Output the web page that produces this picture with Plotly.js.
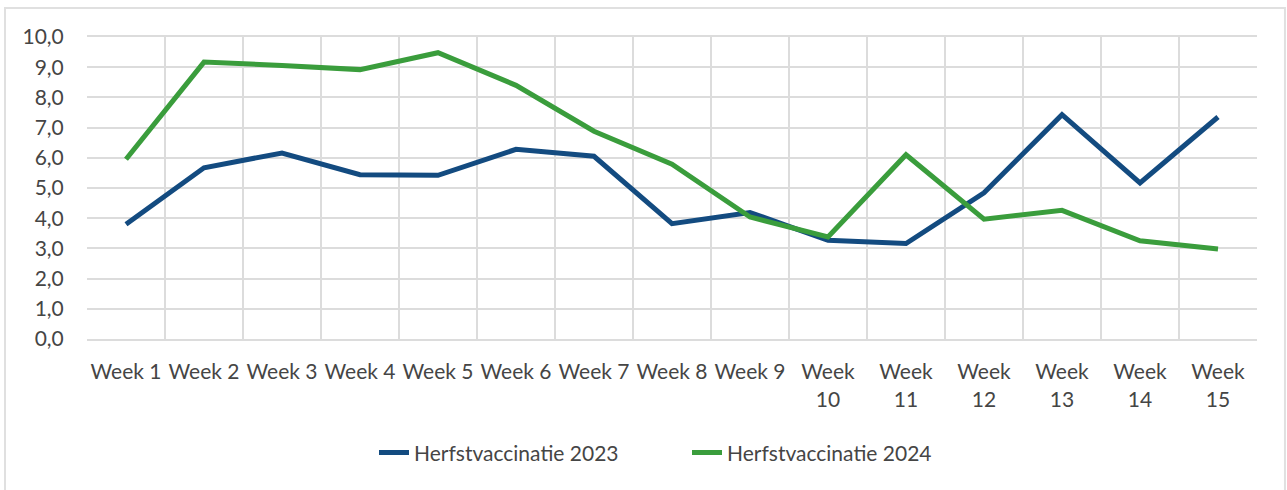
<!DOCTYPE html>
<html>
<head>
<meta charset="utf-8">
<script src="https://cdn.plot.ly/plotly-3.0.1.min.js"></script>
<style>
  html, body { margin: 0; padding: 0; background: #ffffff; }
  #chart { width: 1287px; height: 490px; }
</style>
</head>
<body>
<div id="chart"></div>
<script>
const weeks = ["Week 1","Week 2","Week 3","Week 4","Week 5","Week 6","Week 7","Week 8","Week 9","Week 10","Week 11","Week 12","Week 13","Week 14","Week 15"];
const tickLabels = ["Week 1","Week 2","Week 3","Week 4","Week 5","Week 6","Week 7","Week 8","Week 9","Week<br>10","Week<br>11","Week<br>12","Week<br>13","Week<br>14","Week<br>15"];
const series2023 = [3.80, 5.67, 6.16, 5.44, 5.42, 6.28, 6.05, 3.82, 4.19, 3.27, 3.16, 4.84, 7.43, 5.17, 7.35];
const series2024 = [5.95, 9.17, 9.06, 8.92, 9.48, 8.40, 6.88, 5.79, 4.04, 3.38, 6.10, 3.97, 4.26, 3.25, 2.98];
const name2023 = "Herfstvaccinatie 2023";
const name2024 = "Herfstvaccinatie 2024";

const fontFam = "Lato, 'Open Sans', sans-serif";
const txtColor = "#454545";

const traces = [
  { x: weeks, y: series2023, name: name2023, type: "scatter", mode: "lines",
    line: { color: "#134b80", width: 5, shape: "linear" } },
  { x: weeks, y: series2024, name: name2024, type: "scatter", mode: "lines",
    line: { color: "#3a9d3c", width: 5, shape: "linear" } }
];

const layout = {
  width: 1287, height: 490,
  margin: { l: 87, r: 30, t: 37, b: 151 },
  paper_bgcolor: "#ffffff",
  plot_bgcolor: "#ffffff",
  separators: ",.",
  font: { family: fontFam, size: 21, color: txtColor },
  showlegend: true,
  legend: {
    orientation: "h", x: 0.2453, xanchor: "left", y: -0.377, yanchor: "middle",
    font: { family: fontFam, size: 21, color: txtColor },
    bgcolor: "rgba(0,0,0,0)", itemwidth: 30, entrywidth: 268
  },
  xaxis: {
    type: "category",
    tickmode: "array", tickvals: weeks, ticktext: tickLabels,
    tickson: "boundaries",
    showgrid: true, gridcolor: "#dcdcdc", gridwidth: 2,
    showline: true, linecolor: "#dcdcdc", linewidth: 2, mirror: true,
    ticks: "", ticklabelstandoff: 13,
    tickangle: 0, zeroline: false,
    range: [-0.5, 14.5],
    tickfont: { family: fontFam, size: 21, color: txtColor }
  },
  yaxis: {
    range: [0, 10], dtick: 1, tick0: 0, tickformat: ".1f",
    showgrid: true, gridcolor: "#dcdcdc", gridwidth: 2,
    showline: false, zeroline: false,
    ticks: "outside", ticklen: 18, tickcolor: "rgba(0,0,0,0)",
    tickfont: { family: fontFam, size: 21, color: txtColor }
  },
  shapes: [
    { type: "rect", xref: "paper", yref: "paper", layer: "below",
      x0: -0.0701, x1: 1.0239, y0: -0.52, y1: 1.096,
      line: { color: "#e0e0e0", width: 2 }, fillcolor: "rgba(0,0,0,0)" }
  ]
};

Plotly.newPlot("chart", traces, layout, { displayModeBar: false, staticPlot: true });
</script>
</body>
</html>
